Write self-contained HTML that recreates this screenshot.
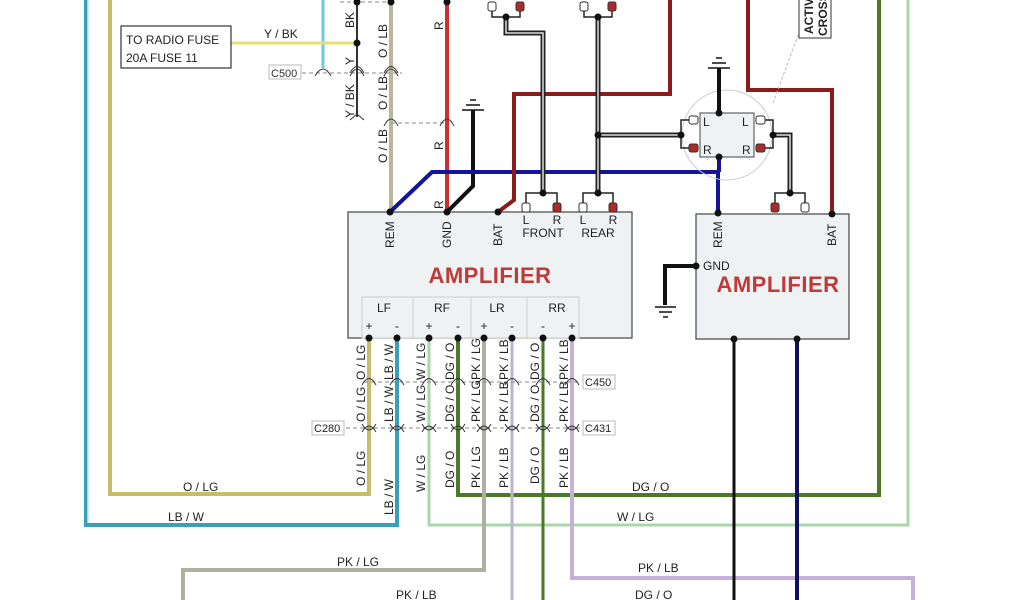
<!DOCTYPE html>
<html><head><meta charset="utf-8"><style>
html,body{margin:0;padding:0;background:#fff;}
svg{display:block;font-family:"Liberation Sans",sans-serif;}
</style></head><body>
<svg width="1024" height="600" viewBox="0 0 1024 600" xmlns="http://www.w3.org/2000/svg">
<rect width="1024" height="600" fill="#fff"/>
<g fill="none" stroke-linejoin="miter">
<polyline points="86,0 86,525 397,525 397,338" stroke="#3aa0b8" stroke-width="4"/>
<polyline points="88,0 88,523" stroke="#bfe8f0" stroke-width="1.5"/>
<polyline points="110,0 110,494 369,494 369,338" stroke="#c8bb6a" stroke-width="4"/>
<polyline points="458,338 458,495 879,495 879,0" stroke="#4a7a28" stroke-width="4"/>
<polyline points="429,338 429,525 908,525 908,0" stroke="#a8d8a8" stroke-width="3"/>
<polyline points="484,338 484,570 183,570 183,600" stroke="#b0b0a0" stroke-width="4"/>
<polyline points="512,338 512,600" stroke="#b8b4d4" stroke-width="3"/>
<polyline points="543,338 543,600" stroke="#4a7a28" stroke-width="3"/>
<polyline points="572,338 572,578 913,578 913,600" stroke="#c4b0d8" stroke-width="4"/>
<line x1="734" y1="339" x2="734" y2="600" stroke="#111" stroke-width="3"/>
<line x1="797" y1="339" x2="797" y2="600" stroke="#101060" stroke-width="4"/>
<line x1="323" y1="0" x2="323" y2="68" stroke="#6ccbe0" stroke-width="3"/>
<line x1="231" y1="43" x2="357" y2="43" stroke="#e6e070" stroke-width="3"/>
<line x1="357" y1="0" x2="357" y2="117" stroke="#333" stroke-width="2"/>
<line x1="391" y1="0" x2="391" y2="212" stroke="#b8b8a0" stroke-width="4"/>
<line x1="447" y1="0" x2="447" y2="212" stroke="#cc3030" stroke-width="4"/>
<polyline points="473,110 473,186 447,212" stroke="#111" stroke-width="4"/>
<polyline points="390,212 432,172 718,172 718,212" stroke="#14149a" stroke-width="4"/>
<polyline points="498,212 514,200 514,94 670,94 670,0" stroke="#8b1c1c" stroke-width="4"/>
<polyline points="748,0 748,90 832,90 832,214" stroke="#8b1c1c" stroke-width="4"/>
<polyline points="696,266 665,266 665,305" stroke="#111" stroke-width="4"/>
<g stroke="#888" stroke-width="1" stroke-dasharray="4,3">
<line x1="302" y1="73" x2="402" y2="73"/>
<line x1="391" y1="123" x2="447" y2="123"/>
<line x1="364" y1="382" x2="580" y2="382"/>
<line x1="346" y1="428" x2="580" y2="428"/>
<line x1="340" y1="2" x2="395" y2="2"/>
</g>
<line x1="773" y1="103" x2="800" y2="30" stroke="#bbb" stroke-width="1" stroke-dasharray="3,2"/>
<circle cx="727" cy="135" r="45" stroke="#ccc" stroke-width="1"/>
<g stroke="#222" stroke-width="5">
<polyline points="506,17 506,33 543,33 543,193"/>
<polyline points="598,17 598,193"/>
<polyline points="598,135 681,135"/>
<polyline points="773,135 790,135 790,193"/>
</g>
<g stroke="#ddd" stroke-width="1.5">
<polyline points="506,17 506,33 543,33 543,193"/>
<polyline points="598,17 598,193"/>
<polyline points="598,135 681,135"/>
<polyline points="773,135 790,135 790,193"/>
</g>
<g stroke="#222" stroke-width="1.5">
<polyline points="492,10 492,17 520,17 520,10"/>
<polyline points="584,10 584,17 612,17 612,10"/>
<polyline points="526,205 526,193 557,193 557,205"/>
<polyline points="583,205 583,193 613,193 613,205"/>
<polyline points="775,205 775,193 805,193 805,205"/>
<polyline points="692,120 681,120 681,148 692,148"/>
<polyline points="762,120 773,120 773,148 762,148"/>
</g>
<g stroke="#111" stroke-width="1.5">
<line x1="462" y1="110" x2="484" y2="110"/><line x1="466" y1="105" x2="480" y2="105"/><line x1="470" y1="100" x2="476" y2="100"/>
<line x1="708" y1="68" x2="730" y2="68"/><line x1="712" y1="63" x2="726" y2="63"/><line x1="716" y1="58" x2="722" y2="58"/>
<line x1="655" y1="307" x2="676" y2="307"/><line x1="659" y1="312" x2="672" y2="312"/><line x1="663" y1="317" x2="668" y2="317"/>
</g>
<line x1="719" y1="68" x2="719" y2="113" stroke="#111" stroke-width="4"/>
<line x1="719" y1="157" x2="719" y2="172" stroke="#14149a" stroke-width="4"/>
</g>
<g fill="none" stroke="#333" stroke-width="1">
<path d="M315,76 Q323,62 331,76"/>
<path d="M350,76 Q357,62 364,76"/><path d="M350,73 Q357,60 364,73"/>
<path d="M384,76 Q391,62 398,76"/><path d="M384,73 Q391,60 398,73"/>
<path d="M350,120 L357,114 L364,120"/>
<path d="M384,126 Q391,112 398,126"/><path d="M440,126 Q447,112 454,126"/>
</g>
<g fill="none" stroke="#333" stroke-width="1">
<path d="M362,385 Q369,372 376,385 M390,385 Q397,372 404,385 M422,385 Q429,372 436,385 M451,385 Q458,372 465,385 M477,385 Q484,372 491,385 M505,385 Q512,372 519,385 M536,385 Q543,372 550,385 M565,385 Q572,372 579,385"/>
<path d="M362,424 Q369,436 376,424 M390,424 Q397,436 404,424 M422,424 Q429,436 436,424 M451,424 Q458,436 465,424 M477,424 Q484,436 491,424 M505,424 Q512,436 519,424 M536,424 Q543,436 550,424 M565,424 Q572,436 579,424"/>
<path d="M362,432 Q369,420 376,432 M390,432 Q397,420 404,432 M422,432 Q429,420 436,432 M451,432 Q458,420 465,432 M477,432 Q484,420 491,432 M505,432 Q512,420 519,432 M536,432 Q543,420 550,432 M565,432 Q572,420 579,432"/>
</g>
<rect x="121" y="26" width="110" height="42" fill="#fff" stroke="#333" stroke-width="1.2"/>
<text x="126" y="44" font-size="12" fill="#222">TO RADIO FUSE</text>
<text x="126" y="62" font-size="12" fill="#222">20A FUSE 11</text>
<rect x="269" y="65" width="32" height="14" fill="#fff" stroke="#bbb" stroke-width="1"/>
<text x="271" y="77" font-size="11" fill="#333">C500</text>
<rect x="348" y="212" width="284" height="126" fill="#eef2f3" stroke="#444" stroke-width="1.2"/>
<rect x="362" y="297" width="217" height="41" fill="#eef2f3" stroke="#ccc" stroke-width="1"/>
<g stroke="#ccc"><line x1="413" y1="297" x2="413" y2="338"/><line x1="471" y1="297" x2="471" y2="338"/><line x1="527" y1="297" x2="527" y2="338"/></g>
<g font-size="12" fill="#222" text-anchor="middle">
<text x="384" y="312">LF</text><text x="442" y="312">RF</text><text x="497" y="312">LR</text><text x="557" y="312">RR</text>
<text x="369" y="330">+</text><text x="397" y="330">-</text><text x="429" y="330">+</text><text x="458" y="330">-</text>
<text x="484" y="330">+</text><text x="512" y="330">-</text><text x="543" y="330">-</text><text x="572" y="330">+</text>
<text x="526" y="224">L</text><text x="557" y="224">R</text><text x="583" y="224">L</text><text x="613" y="224">R</text>
<text x="543" y="237">FRONT</text><text x="598" y="237">REAR</text>
<text x="775" y="228">R</text><text x="805" y="228">L</text>
</g>
<text x="490" y="283" font-size="22" fill="#c03a3a" text-anchor="middle" font-weight="bold" letter-spacing="0.5">AMPLIFIER</text>
<rect x="696" y="214" width="153" height="125" fill="#eef2f3" stroke="#444" stroke-width="1.2"/>
<text x="778" y="292" font-size="22" fill="#c03a3a" text-anchor="middle" font-weight="bold" letter-spacing="0.5">AMPLIFIER</text>
<text x="703" y="270" font-size="12" fill="#222">GND</text>
<rect x="700" y="113" width="54" height="44" fill="#eef2f3" stroke="#444" stroke-width="1"/>
<g font-size="12" fill="#222"><text x="703" y="126">L</text><text x="703" y="154">R</text><text x="742" y="126">L</text><text x="742" y="154">R</text></g>
<rect x="799" y="-2" width="32" height="40" fill="#fff" stroke="#333" stroke-width="1"/>
<g font-size="12" font-weight="bold" fill="#222">
<text transform="translate(813,34) rotate(-90)">ACTIVE</text>
<text transform="translate(827,36) rotate(-90)">CROSSOVER</text>
</g>
<g stroke="#333" stroke-width="1">
<rect x="488" y="2" width="8" height="9" rx="2" fill="#fff"/><rect x="516" y="2" width="8" height="9" rx="2" fill="#b02828"/>
<rect x="580" y="2" width="8" height="9" rx="2" fill="#fff"/><rect x="608" y="2" width="8" height="9" rx="2" fill="#b02828"/>
<rect x="522" y="203" width="8" height="9" rx="2" fill="#fff"/><rect x="553" y="203" width="8" height="9" rx="2" fill="#b02828"/>
<rect x="579" y="203" width="8" height="9" rx="2" fill="#fff"/><rect x="609" y="203" width="8" height="9" rx="2" fill="#b02828"/>
<rect x="771" y="203" width="8" height="9" rx="2" fill="#b02828"/><rect x="801" y="203" width="8" height="9" rx="2" fill="#fff"/>
<rect x="689" y="116" width="9" height="8" rx="2" fill="#fff"/><rect x="689" y="144" width="9" height="8" rx="2" fill="#b02828"/>
<rect x="756" y="116" width="9" height="8" rx="2" fill="#fff"/><rect x="756" y="144" width="9" height="8" rx="2" fill="#b02828"/>
</g>
<g fill="#111">
<circle cx="357" cy="43" r="3.5"/><circle cx="357" cy="2" r="3.5"/><circle cx="391" cy="2" r="3.5"/><circle cx="447" cy="2" r="3.5"/>
<circle cx="390" cy="212" r="3.5"/><circle cx="447" cy="212" r="3.5"/><circle cx="498" cy="212" r="3.5"/>
<circle cx="506" cy="17" r="3.5"/><circle cx="598" cy="17" r="3.5"/><circle cx="543" cy="193" r="3.5"/><circle cx="598" cy="193" r="3.5"/>
<circle cx="598" cy="135" r="3.5"/><circle cx="681" cy="135" r="3.5"/><circle cx="773" cy="135" r="3.5"/><circle cx="790" cy="193" r="3.5"/>
<circle cx="719" cy="113" r="3.5"/><circle cx="719" cy="157" r="3.5"/><circle cx="718" cy="213" r="3.5"/><circle cx="832" cy="214" r="3.5"/>
<circle cx="696" cy="266" r="3.5"/><circle cx="734" cy="339" r="3.5"/><circle cx="797" cy="339" r="3.5"/>
<circle cx="369" cy="338" r="3.5"/><circle cx="397" cy="338" r="3.5"/><circle cx="429" cy="338" r="3.5"/><circle cx="458" cy="338" r="3.5"/>
<circle cx="484" cy="338" r="3.5"/><circle cx="512" cy="338" r="3.5"/><circle cx="543" cy="338" r="3.5"/><circle cx="572" cy="338" r="3.5"/>
</g>
<g font-size="12" fill="#222">
<text x="264" y="38">Y / BK</text>
<text x="183" y="491">O / LG</text><text x="168" y="521">LB / W</text>
<text x="632" y="491">DG / O</text><text x="617" y="521">W / LG</text>
<text x="337" y="566">PK / LG</text><text x="638" y="572">PK / LB</text>
<text x="396" y="599">PK / LB</text><text x="635" y="599">DG / O</text>
</g>
<g font-size="11" fill="#222">
<rect x="312" y="421" width="32" height="14" fill="#fff" stroke="#bbb"/><text x="314" y="432">C280</text>
<rect x="583" y="375" width="32" height="14" fill="#fff" stroke="#bbb"/><text x="585" y="386">C450</text>
<rect x="583" y="421" width="32" height="14" fill="#fff" stroke="#bbb"/><text x="585" y="432">C431</text>
</g>
<g font-size="12" fill="#222">
<text transform="translate(354,28) rotate(-90)">BK</text>
<text transform="translate(354,65) rotate(-90)">Y</text>
<text transform="translate(354,118) rotate(-90)">Y / BK</text>
<text transform="translate(387,58) rotate(-90)">O / LB</text>
<text transform="translate(387,110) rotate(-90)">O / LB</text>
<text transform="translate(387,163) rotate(-90)">O / LB</text>
<text transform="translate(443,30) rotate(-90)">R</text>
<text transform="translate(443,150) rotate(-90)">R</text>
<text transform="translate(443,209) rotate(-90)">R</text>
<text transform="translate(394,248) rotate(-90)">REM</text>
<text transform="translate(451,248) rotate(-90)">GND</text>
<text transform="translate(502,246) rotate(-90)">BAT</text>
<text transform="translate(722,248) rotate(-90)">REM</text>
<text transform="translate(836,246) rotate(-90)">BAT</text>
</g>
<g font-size="12" fill="#222">
<text transform="translate(365,380) rotate(-90)">O / LG</text>
<text transform="translate(393,380) rotate(-90)">LB / W</text>
<text transform="translate(425,380) rotate(-90)">W / LG</text>
<text transform="translate(454,380) rotate(-90)">DG / O</text>
<text transform="translate(480,380) rotate(-90)">PK / LG</text>
<text transform="translate(508,380) rotate(-90)">PK / LB</text>
<text transform="translate(539,380) rotate(-90)">DG / O</text>
<text transform="translate(568,380) rotate(-90)">PK / LB</text>
<text transform="translate(365,422) rotate(-90)">O / LG</text>
<text transform="translate(393,422) rotate(-90)">LB / W</text>
<text transform="translate(425,422) rotate(-90)">W / LG</text>
<text transform="translate(454,422) rotate(-90)">DG / O</text>
<text transform="translate(480,422) rotate(-90)">PK / LG</text>
<text transform="translate(508,422) rotate(-90)">PK / LB</text>
<text transform="translate(539,422) rotate(-90)">DG / O</text>
<text transform="translate(568,422) rotate(-90)">PK / LB</text>
<text transform="translate(365,486) rotate(-90)">O / LG</text>
<text transform="translate(393,515) rotate(-90)">LB / W</text>
<text transform="translate(425,492) rotate(-90)">W / LG</text>
<text transform="translate(454,488) rotate(-90)">DG / O</text>
<text transform="translate(480,488) rotate(-90)">PK / LG</text>
<text transform="translate(508,488) rotate(-90)">PK / LB</text>
<text transform="translate(539,484) rotate(-90)">DG / O</text>
<text transform="translate(568,488) rotate(-90)">PK / LB</text>
</g>
</svg>
</body></html>
